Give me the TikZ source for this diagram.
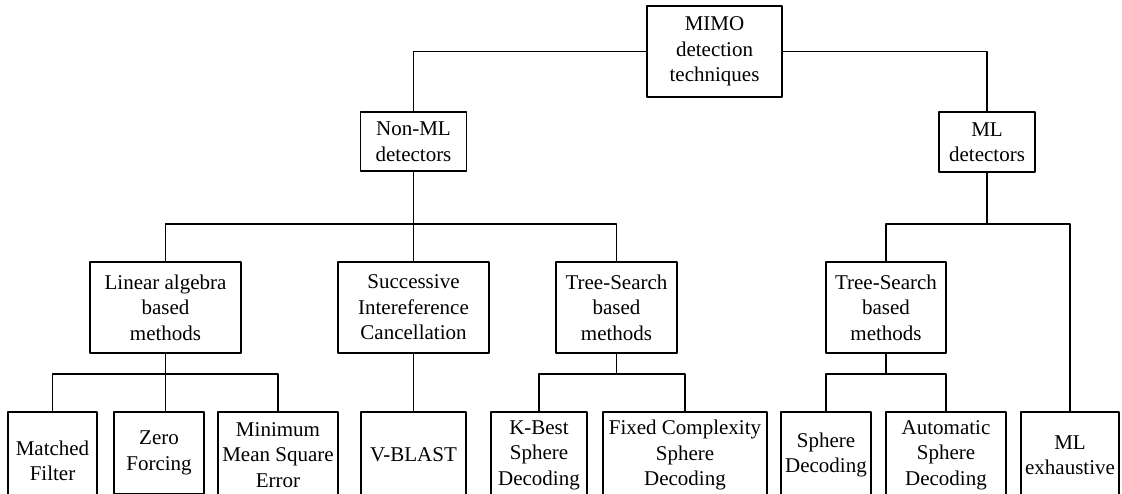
\documentclass[tikz,border=0pt]{standalone}
\usepackage{fontspec}
\setmainfont{Liberation Serif}
\begin{document}
\begin{tikzpicture}[x=1pt,y=-1pt,line join=round,
	box/.style={draw,line width=1.3pt,align=center,inner sep=0pt,font=\fontsize{21}{25.5}\selectfont},
	link/.style={line width=1.1pt}]
	\useasboundingbox (0,0) rectangle (1122,494);
	\clip (0,0) rectangle (1122,494);
	\coordinate (b2) at (0,224);
	\coordinate (b3) at (0,374);
	% top levels
	\node[box,minimum width=135pt,minimum height=91pt] (mimo) at (714.5,51.5) {MIMO\\detection\\techniques};
	\node[box,minimum width=106pt,minimum height=59pt] (nonml) at (413.5,141.5) {Non-ML\\detectors};
	\node[box,minimum width=96pt,minimum height=60pt] (ml) at (987,142) {ML\\detectors};
	\node[box,minimum width=151pt,minimum height=91pt] (lin) at (165.5,307.5) {Linear algebra\\based\\methods};
	\node[box,minimum width=151pt,minimum height=91pt] (sic) at (413.5,307.5) {Successive\\Intereference\\Cancellation};
	\node[box,minimum width=121pt,minimum height=91pt] (tsa) at (616.5,307.5) {Tree-Search\\based\\methods};
	\node[box,minimum width=120pt,minimum height=91pt] (tsb) at (886,307.5) {Tree-Search\\based\\methods};
	% leaves
	\foreach \n/\x/\w/\dy/\t in {mf/52.5/89/6/{Matched\\Filter},zf/159/90/-2/{Zero\\Forcing},
		mmse/278/120/0/{Minimum\\Mean Square\\Error},vb/413.5/105/0/{V-BLAST},
		kb/539/96/0/{K-Best\\Sphere\\Decoding},fc/685/164/0/{Fixed Complexity\\Sphere\\Decoding},
		sd/826/90/0/{Sphere\\Decoding},asd/946/120/0/{Automatic\\Sphere\\Decoding},
		mle/1070/98/0/{ML\\exhaustive}}
	\node[box,minimum width=\w pt,minimum height=86pt+2*\dy pt] (\n) at (\x,455+\dy) {\t};
	% connectors
	\draw[link] (mimo.west) -| (nonml.north);
	\draw[link] (mimo.east) -| (ml.north);
	\draw[link] (nonml.south) -- (sic.north);
	\draw[link] (lin.north) |- (b2 -| tsa) -- (tsa.north);
	\draw[link] (ml.south) -- (ml |- b2);
	\draw[link] (tsb.north) |- (b2 -| mle) -- (mle.north);
	\draw[link] (lin.south) -- (lin.south |- mf.north);
	\draw[link] (mf.north) |- (b3 -| mmse) -- (mmse.north);
	\draw[link] (sic.south) -- (vb.north);
	\draw[link] (tsa.south) -- (tsa |- b3);
	\draw[link] (kb.north) |- (b3 -| fc) -- (fc.north);
	\draw[link] (tsb.south) -- (tsb |- b3);
	\draw[link] (sd.north) |- (b3 -| asd) -- (asd.north);
\end{tikzpicture}
\end{document}
